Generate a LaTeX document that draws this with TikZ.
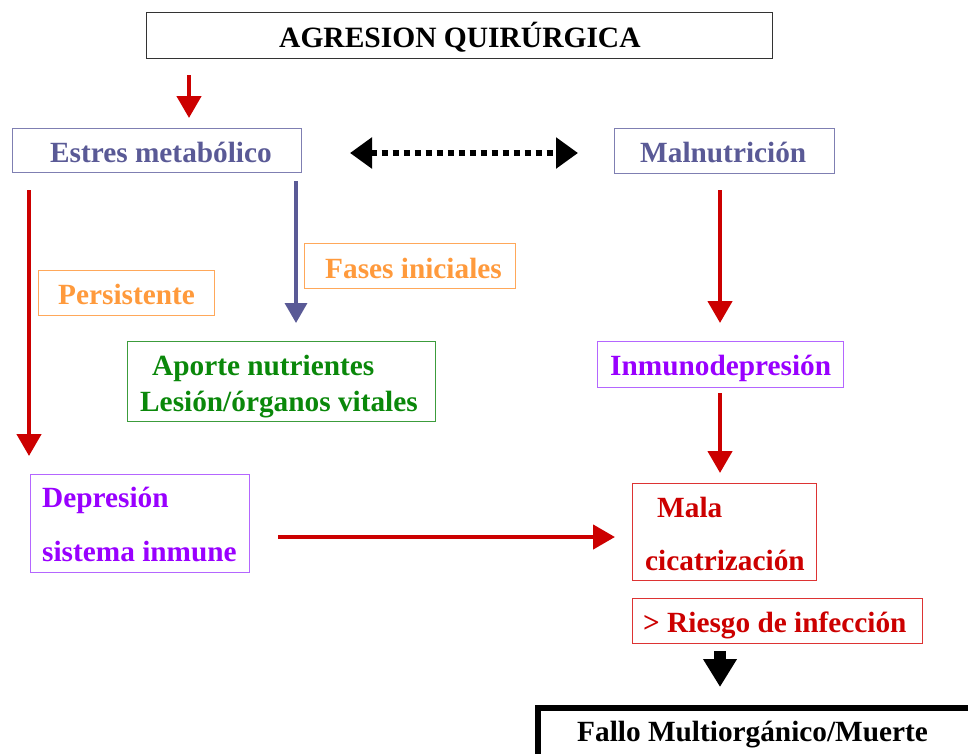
\documentclass[tikz,border=0pt]{standalone}
\usepackage{fontspec}
\setmainfont{Liberation Serif}
\usetikzlibrary{arrows.meta}
\definecolor{slate}{HTML}{5A5A96}
\definecolor{slateb}{HTML}{7F7FB2}
\definecolor{orng}{HTML}{FF9A3C}
\definecolor{orngb}{HTML}{FFA85A}
\definecolor{grn}{HTML}{0A880A}
\definecolor{grnb}{HTML}{3C9C3C}
\definecolor{purp}{HTML}{9900FF}
\definecolor{purpb}{HTML}{B466FF}
\definecolor{rd}{HTML}{CC0000}
\definecolor{rdb}{HTML}{DD3333}
\tikzset{
  box/.style={draw, line width=1.2pt, inner sep=0pt, anchor=north west},
  txt/.style={inner sep=0pt, anchor=base west, font=\fontsize{29.3}{34}\selectfont\bfseries},
  redarrow/.style={draw=rd, line width=4.5pt, -{Triangle[length=22pt,width=24pt]}},
  bluearrow/.style={draw=slate, line width=3.5pt, -{Triangle[length=20pt,width=22pt]}},
}
\begin{document}
\begin{tikzpicture}[x=1pt,y=-1pt]
\clip (0,0) rectangle (968,753);
\fill[white] (0,0) rectangle (968,753);

% boxes
\node[box, draw=black!80, minimum width=626pt, minimum height=46pt] (agr) at (146,12) {};
\node[box, draw=slateb, minimum width=289pt, minimum height=44pt] (est) at (12,128) {};
\node[box, draw=slateb, minimum width=220pt, minimum height=45pt] (mal) at (614,128) {};
\node[box, draw=orngb, minimum width=176pt, minimum height=45pt] (per) at (38,270) {};
\node[box, draw=orngb, minimum width=211pt, minimum height=45pt] (fas) at (304,243) {};
\node[box, draw=grnb, minimum width=308pt, minimum height=80pt] (apo) at (127,341) {};
\node[box, draw=purpb, minimum width=246pt, minimum height=46pt] (inm) at (597,341) {};
\node[box, draw=purpb, minimum width=219pt, minimum height=98pt] (dep) at (30,474) {};
\node[box, draw=rdb, minimum width=184pt, minimum height=97pt] (cic) at (632,483) {};
\node[box, draw=rdb, minimum width=290pt, minimum height=45pt] (rie) at (632,598) {};
\node[box, draw=black, line width=6pt, minimum width=450pt, minimum height=70pt] (fal) at (535,705) {};

% texts
\node[txt, font=\fontsize{29.5}{34}\selectfont\bfseries] (tagr) at (279,47) {AGRESION QUIRÚRGICA};
\node[txt, text=slate] (test) at (50,162) {Estres metabólico};
\node[txt, text=slate] (tmal) at (640,162) {Malnutrición};
\node[txt, text=orng] (tper) at (58,304) {Persistente};
\node[txt, text=orng] (tfas) at (325,278) {Fases iniciales};
\node[txt, text=grn] (tapo1) at (152,375) {Aporte nutrientes};
\node[txt, text=grn] (tapo2) at (140,411) {Lesión/órganos vitales};
\node[txt, text=purp] (tinm) at (610,375) {Inmunodepresión};
\node[txt, text=purp] (tdep1) at (42,507) {Depresión};
\node[txt, text=purp] (tdep2) at (42,561) {sistema inmune};
\node[txt, text=rd] (tcic1) at (657,517) {Mala};
\node[txt, text=rd] (tcic2) at (645,570) {cicatrización};
\node[txt, text=rd] (trie) at (643,632) {> Riesgo de infección};
\node[txt] (tfal) at (577,741) {Fallo Multiorgánico/Muerte};

% connectors
\coordinate (a1s) at (189,75);
\coordinate (a1e) at (189,118);
\draw[redarrow] (a1s) -- (a1e);

\coordinate (d1) at (350,153);
\coordinate (d2) at (578,153);
\draw[line width=5.5pt, dash pattern=on 6pt off 5pt, {Triangle[length=22pt,width=30pt]}-{Triangle[length=22pt,width=30pt]}] (d1) -- (d2);

\coordinate (p1) at (29,190);
\coordinate (p2) at (29,456);
\draw[redarrow] (p1) -- (p2);

\coordinate (b1) at (296,181);
\coordinate (b2) at (296,323);
\draw[bluearrow] (b1) -- (b2);

\coordinate (m1) at (720,190);
\coordinate (m2) at (720,323);
\draw[redarrow] (m1) -- (m2);

\coordinate (i1) at (720,393);
\coordinate (i2) at (720,473);
\draw[redarrow] (i1) -- (i2);

\coordinate (h1) at (278,537);
\coordinate (h2) at (615,537);
\draw[redarrow] (h1) -- (h2);

\coordinate (k1) at (720,651);
\coordinate (k2) at (720,687);
\draw[line width=12pt, -{Triangle[length=28pt,width=32pt]}] (k1) -- (k2);
\end{tikzpicture}
\end{document}
